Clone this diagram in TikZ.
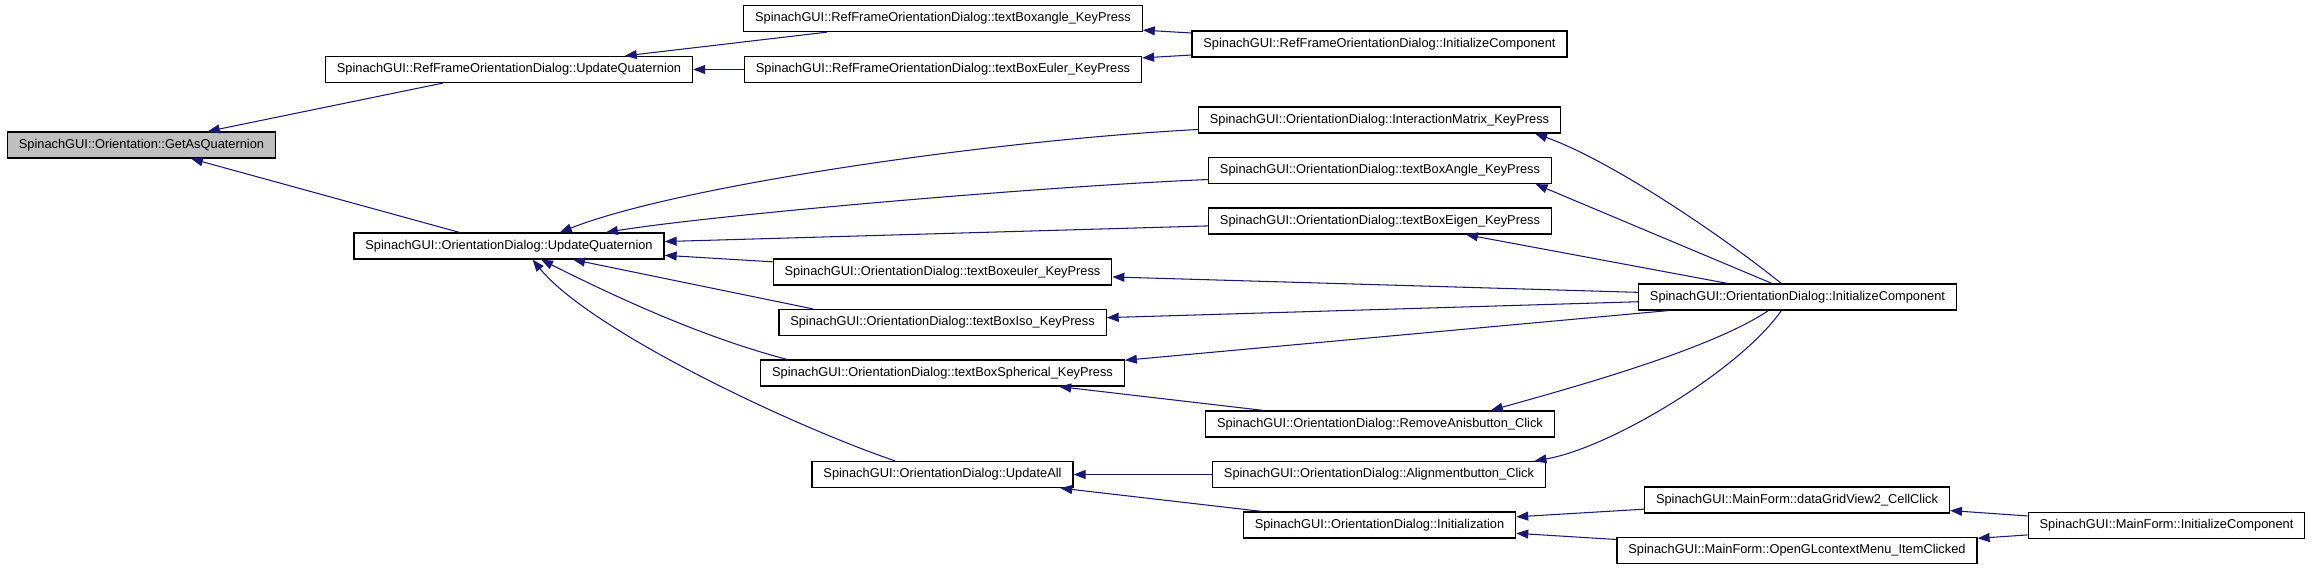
\documentclass[tikz,border=0pt]{standalone}
\usepackage{fontspec}
\setmainfont{Liberation Sans}
\usepackage{tikz}
\usetikzlibrary{arrows.meta}
\definecolor{edgeblue}{HTML}{191970}
\definecolor{calleegray}{HTML}{BFBFBF}

\begin{document}
\begin{tikzpicture}[x=0.02cm, y=-0.02cm,
    func/.style={draw, fill=white, line width=0.7pt, minimum height=0.52cm, inner xsep=6.5pt, inner ysep=0pt, font=\fontsize{7.3}{8.5}\selectfont},
    call/.style={draw=edgeblue, line width=0.6pt, -{Triangle[length=6.8pt, width=5.1pt]}}]
    \useasboundingbox (0,0) rectangle (2312,569);
    % the function itself
    \node[func, fill=calleegray] (getas) at (141.5,145) {SpinachGUI::Orientation::GetAsQuaternion};
    % first callers
    \node[func] (rfupd) at (509,69.5) {SpinachGUI::RefFrameOrientationDialog::UpdateQuaternion};
    \node[func] (odupd) at (509,246) {SpinachGUI::OrientationDialog::UpdateQuaternion};
    % second column
    \node[func] (rfangle) at (943,18.5) {SpinachGUI::RefFrameOrientationDialog::textBoxangle\_KeyPress};
    \node[func] (rfeuler) at (943,69.5) {SpinachGUI::RefFrameOrientationDialog::textBoxEuler\_KeyPress};
    \node[func] (boxeuler) at (942.5,272) {SpinachGUI::OrientationDialog::textBoxeuler\_KeyPress};
    \node[func] (boxiso) at (942.5,322.5) {SpinachGUI::OrientationDialog::textBoxIso\_KeyPress};
    \node[func] (boxsph) at (942.5,373) {SpinachGUI::OrientationDialog::textBoxSpherical\_KeyPress};
    \node[func] (updall) at (942.5,474.5) {SpinachGUI::OrientationDialog::UpdateAll};
    % third column
    \node[func] (rfinit) at (1379.5,44) {SpinachGUI::RefFrameOrientationDialog::InitializeComponent};
    \node[func] (intmat) at (1379.5,120) {SpinachGUI::OrientationDialog::InteractionMatrix\_KeyPress};
    \node[func] (boxangle) at (1380,170.5) {SpinachGUI::OrientationDialog::textBoxAngle\_KeyPress};
    \node[func] (boxeigen) at (1380,221) {SpinachGUI::OrientationDialog::textBoxEigen\_KeyPress};
    \node[func] (remanis) at (1380,424) {SpinachGUI::OrientationDialog::RemoveAnisbutton\_Click};
    \node[func] (align) at (1379,474.5) {SpinachGUI::OrientationDialog::Alignmentbutton\_Click};
    \node[func] (init) at (1379.5,525) {SpinachGUI::OrientationDialog::Initialization};
    % fourth and fifth column
    \node[func] (odinit) at (1797.5,297) {SpinachGUI::OrientationDialog::InitializeComponent};
    \node[func] (datagrid) at (1797,500) {SpinachGUI::MainForm::dataGridView2\_CellClick};
    \node[func] (opengl) at (1797,550.5) {SpinachGUI::MainForm::OpenGLcontextMenu\_ItemClicked};
    \node[func] (mfinit) at (2166.5,525.5) {SpinachGUI::MainForm::InitializeComponent};

    % calls
    \draw[call] (rfupd) -- (getas);
    \draw[call] (odupd) -- (getas);
    \draw[call] (rfangle) -- (rfupd);
    \draw[call] (rfeuler) -- (rfupd);
    \draw[call] (rfinit) -- (rfangle);
    \draw[call] (rfinit) -- (rfeuler);
    \draw[call] (intmat.183) .. controls (996,140) and (680,185) .. (odupd.15);
    \draw[call] (boxangle.183) .. controls (1050,186) and (720,214) .. (odupd.8);
    \draw[call] (boxeigen) -- (odupd);
    \draw[call] (boxeuler) -- (odupd);
    \draw[call] (boxiso.174) -- (odupd.-12);
    \draw[call] (boxsph.175) .. controls (698,336) and (610,294) .. (odupd.-23);
    \draw[call] (updall.164) .. controls (790,425) and (590,330) .. (odupd.-30);
    \draw[call] (odinit.140) .. controls (1712,228) and (1605,158) .. (intmat.-5);
    \draw[call] (odinit.152) -- (boxangle.-5);
    \draw[call] (odinit.169) -- (boxeigen.-9);
    \draw[call] (odinit) -- (boxeuler);
    \draw[call] (odinit) -- (boxiso);
    \draw[call] (odinit.186) -- (boxsph.4);
    \draw[call] (odinit.205) .. controls (1710,350) and (1567,389) .. (remanis.7);
    \draw[call] (odinit.220) .. controls (1740,370) and (1610,448) .. (align.5);
    \draw[call] (remanis) -- (boxsph);
    \draw[call] (align) -- (updall);
    \draw[call] (init) -- (updall);
    \draw[call] (datagrid) -- (init);
    \draw[call] (opengl) -- (init);
    \draw[call] (mfinit) -- (datagrid);
    \draw[call] (mfinit) -- (opengl);
\end{tikzpicture}
\end{document}
